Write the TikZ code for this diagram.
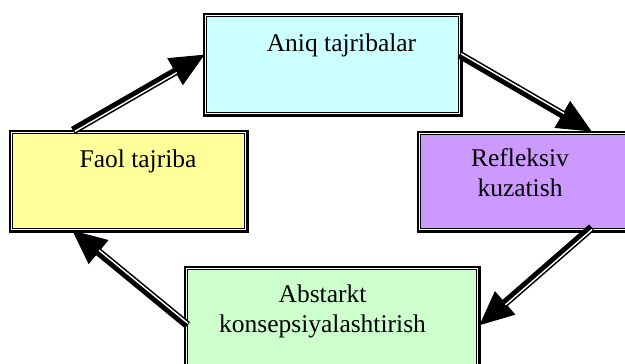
\documentclass[tikz,border=0pt]{standalone}
\usepackage{fontspec}
\setmainfont{Liberation Serif}
\usetikzlibrary{arrows.meta,calc}
\definecolor{cyanbox}{HTML}{CCFFFF}
\definecolor{yellowbox}{HTML}{FFFF99}
\definecolor{purplebox}{HTML}{CC99FF}
\definecolor{greenbox}{HTML}{CCFFCC}
\tikzset{
  boxstyle/.style={rectangle, inner sep=0pt, outer sep=0pt,
    draw=black, line width=1.2pt, double=white, double distance=1.4pt,
    preaction={draw=black, line width=6pt}},
  txt/.style={font=\fontsize{25.5}{30}\selectfont, inner sep=0pt, align=center},
  headarrow/.style={draw=black, line width=1pt, -{Triangle[length=34pt,width=31pt]}},
  shaftblack/.style={draw=black, line width=8pt, shorten >=30pt},
  shaftwhite/.style={draw=white, line width=1.4pt, shorten >=33pt, shorten <=1pt}
}
\begin{document}
\begin{tikzpicture}[x=1pt,y=-1pt]
\useasboundingbox (0,0) rectangle (625,364);
\clip (0,0) rectangle (625,364);
\fill[white] (0,0) rectangle (625,364);

% boxes
\node[boxstyle, fill=cyanbox, minimum width=254pt, minimum height=98pt] (aniq) at (332.5,64.5) {};
\node[boxstyle, fill=yellowbox, minimum width=234pt, minimum height=97pt] (faol) at (128.5,181) {};
\node[boxstyle, fill=purplebox, minimum width=218pt, minimum height=96pt] (refl) at (528.5,181.5) {};
\node[boxstyle, fill=greenbox, minimum width=291pt, minimum height=109pt] (abst) at (332,323) {};

% texts
\node[txt, anchor=base] (aniqtxt) at ($(aniq.center)+(9,-12.5)$) {Aniq tajribalar};
\node[txt, anchor=base] (faoltxt) at ($(faol.center)+(9.5,-14)$) {Faol tajriba};
\node[txt, anchor=base] (refltxt1) at ($(refl.west)+(100.5,-15.5)$) {Refleksiv};
\node[txt, anchor=base] (refltxt2) at ($(refl.west)+(100.5,14.5)$) {kuzatish};
\node[txt, anchor=base] (absttxt1) at ($(abst.center)+(-9.5,-21)$) {Abstarkt};
\node[txt, anchor=base] (absttxt2) at ($(abst.center)+(-9.5,9)$) {konsepsiyalashtirish};

% connector end points
\coordinate (a1s) at ($(faol.north west)!0.263!(faol.north east)+(0,-2)$);
\coordinate (a1e) at ($(aniq.north west)!0.40!(aniq.south west)+(-1,0)$);
\coordinate (a2s) at ($(aniq.north east)!0.40!(aniq.south east)$);
\coordinate (a2e) at ($(refl.north west)!0.79!(refl.north east)+(0,-2)$);
\coordinate (a3s) at ($(refl.south west)!0.79!(refl.south east)+(0,-2)$);
\coordinate (a3e) at ($(abst.north east)!0.52!(abst.south east)+(2,0)$);
\coordinate (a4s) at ($(abst.north west)!0.52!(abst.south west)+(1,0)$);
\coordinate (a4e) at ($(faol.south west)!0.26!(faol.south east)+(0,1)$);

% arrow 1: Faol -> Aniq
\draw[headarrow] (a1s) -- (a1e);
\draw[shaftblack] (a1s) -- (a1e);
\draw[shaftwhite, transform canvas={shift={(0.84,1.48)}}] (a1s) -- (a1e);
% arrow 2: Aniq -> Refleksiv
\draw[headarrow] (a2s) -- (a2e);
\draw[shaftblack] (a2s) -- (a2e);
\draw[shaftwhite, transform canvas={shift={(0.84,-1.48)}}] (a2s) -- (a2e);
% arrow 3: Refleksiv -> Abstarkt
\draw[headarrow] (a3s) -- (a3e);
\draw[shaftblack] (a3s) -- (a3e);
\draw[shaftwhite, transform canvas={shift={(1.1,1.3)}}] (a3s) -- (a3e);
% arrow 4: Abstarkt -> Faol
\draw[headarrow] (a4s) -- (a4e);
\draw[shaftblack] (a4s) -- (a4e);
\draw[shaftwhite, transform canvas={shift={(1.08,-1.31)}}] (a4s) -- (a4e);
\end{tikzpicture}
\end{document}
